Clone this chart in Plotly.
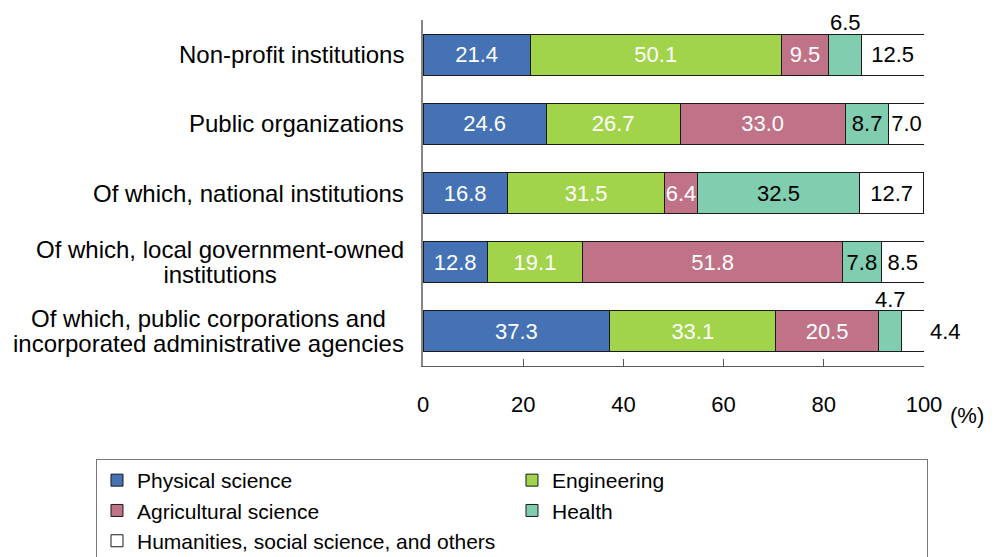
import plotly.graph_objects as go

categories = [
    "Non-profit institutions",
    "Public organizations",
    "Of which, national institutions",
    "Of which, local government-owned<br>institutions",
    "Of which, public corporations and<br>incorporated administrative agencies",
]
series_names = [
    "Physical science",
    "Engineering",
    "Agricultural science",
    "Health",
    "Humanities, social science, and others",
]
physical = [21.4, 24.6, 16.8, 12.8, 37.3]
engineering = [50.1, 26.7, 31.5, 19.1, 33.1]
agricultural = [9.5, 33.0, 6.4, 51.8, 20.5]
health = [6.5, 8.7, 32.5, 7.8, 4.7]
humanities = [12.5, 7.0, 12.7, 8.5, 4.4]
x_ticks = [0, 20, 40, 60, 80, 100]

series_values = [physical, engineering, agricultural, health, humanities]
colors = ["#4472B4", "#A1D44A", "#C07287", "#80CDB0", "#FFFFFF"]
text_colors = ["white", "white", "white", "black", "black"]
# labels drawn outside the bar: (category index, series index) -> placement
outside = {(0, 3): "above", (4, 3): "above", (4, 4): "right"}

FONT = "Liberation Sans, Arial, sans-serif"
fig = go.Figure()
for s, (name, vals) in enumerate(zip(series_names, series_values)):
    texts = ["" if (i, s) in outside else f"{v:.1f}" for i, v in enumerate(vals)]
    fig.add_trace(go.Bar(
        name=name, y=categories, x=vals, orientation="h",
        marker=dict(color=colors[s], line=dict(color="#1a1a1a", width=1)),
        text=texts, textposition="inside", insidetextanchor="middle",
        textangle=0, constraintext="none",
        textfont=dict(family=FONT, size=22, color=text_colors[s]),
        hoverinfo="x+y+name",
    ))

annotations = []
for (i, s), where in outside.items():
    start = sum(series_values[k][i] for k in range(s))
    v = series_values[s][i]
    if where == "above":
        annotations.append(dict(x=start + v / 2, y=categories[i], xref="x", yref="y",
                                text=f"{v:.1f}", showarrow=False, yshift=32,
                                xanchor="center", yanchor="middle",
                                font=dict(family=FONT, size=22, color="black")))
    else:
        annotations.append(dict(x=start + v, y=categories[i], xref="x", yref="y",
                                text=f"{v:.1f}", showarrow=False, xanchor="left",
                                yanchor="middle", xshift=4,
                                font=dict(family=FONT, size=22, color="black")))

# category labels: tight line spacing via a smaller base font, lines at 24px
for c in categories:
    label = "<br>".join(f"<span style='font-size:24px'>{ln}</span>" for ln in c.split("<br>"))
    annotations.append(dict(x=0, y=c, xref="paper", yref="y", text=label, showarrow=False,
                            xanchor="right", yanchor="middle", align="center", xshift=-17,
                            font=dict(family=FONT, size=19, color="black")))

annotations.append(dict(x=1.086, y=-0.1445, xref="paper", yref="paper", text="(%)",
                        xanchor="center", yanchor="middle",
                        showarrow=False, font=dict(family=FONT, size=22, color="black")))

fig.update_layout(
    width=995, height=549,
    margin=dict(l=415, r=79, t=12, b=191, autoexpand=False),
    barmode="stack", bargap=0.41,
    plot_bgcolor="white", paper_bgcolor="white",
    font=dict(family=FONT, color="black"),
    xaxis=dict(range=[0, 100], tickvals=x_ticks, ticks="inside", ticklen=7,
               tickcolor="#595959", showline=True, linecolor="#595959", linewidth=1,
               showgrid=False, zeroline=False, ticklabelstandoff=19,
               tickfont=dict(family=FONT, size=22, color="black")),
    yaxis=dict(categoryorder="array", categoryarray=categories, range=[4.5, -0.5],
               showticklabels=False, ticks="", showline=True, linecolor="#868686",
               linewidth=2, showgrid=False, zeroline=False),
    legend=dict(orientation="h", x=-0.6527, xanchor="left", y=-0.2688, yanchor="top",
                entrywidth=370, bordercolor="#767676", borderwidth=1,
                font=dict(family=FONT, size=21, color="black"), traceorder="normal"),
    annotations=annotations,
    showlegend=True,
)

fig.write_html("out.html")
